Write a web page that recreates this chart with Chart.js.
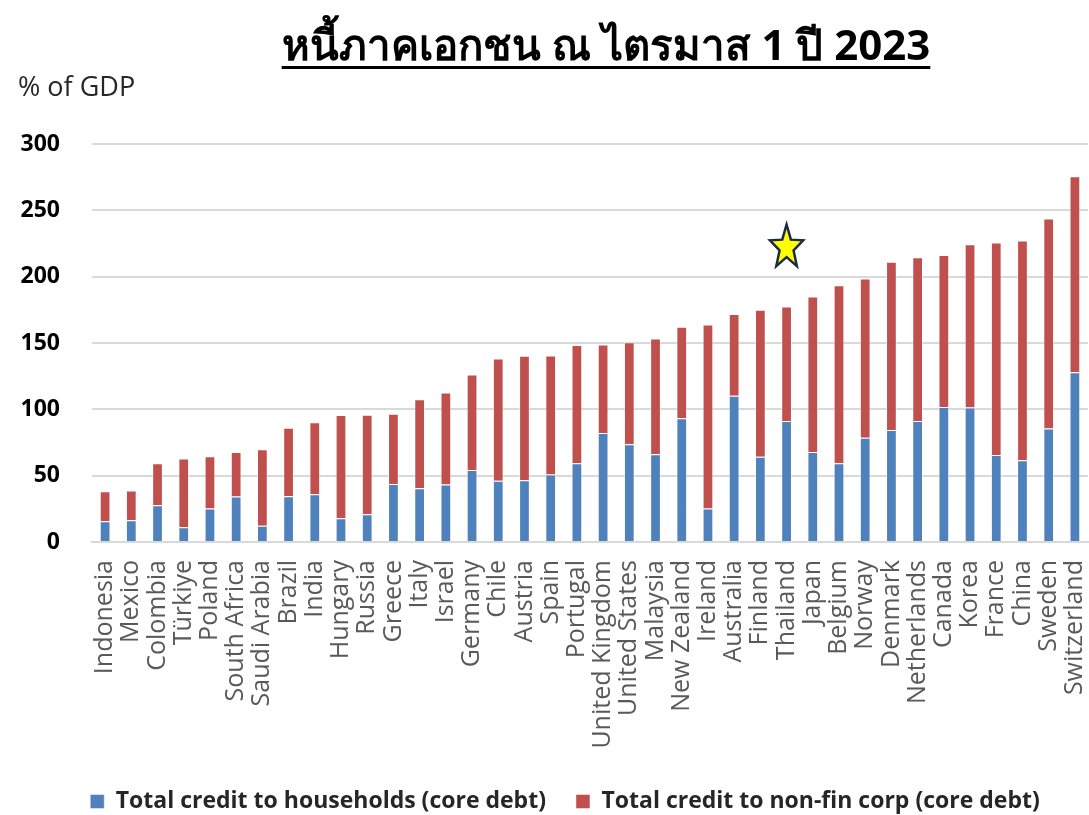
<!DOCTYPE html>
<html>
<head>
<meta charset="utf-8">
<script src="https://cdn.jsdelivr.net/npm/chart.js@4.4.1/dist/chart.umd.min.js"></script>
<style>
  html, body { margin: 0; padding: 0; background: #ffffff; }
  #wrap { position: relative; width: 1089px; height: 815px; overflow: hidden; }
  #chart { position: absolute; left: 0; top: 0; }
  #title {
    position: absolute; left: 606px; top: 12px; transform: translateX(-50%);
    font-family: "Open Sans", "Noto Sans", "DejaVu Sans", sans-serif;
    font-weight: bold; font-size: 42px; color: #000; white-space: nowrap;
    text-decoration: underline; text-decoration-thickness: 3px; text-underline-offset: 6px;
  }
  #unit {
    position: absolute; left: 18px; top: 67px;
    font-family: "Open Sans", sans-serif; font-size: 27px; color: #262626;
  }
</style>
</head>
<body>
<div id="wrap">
  <canvas id="chart" width="1089" height="815"></canvas>
  <div id="title">หนี้ภาคเอกชน ณ ไตรมาส 1 ปี 2023</div>
  <div id="unit">% of GDP</div>
</div>
<script>
// Private-sector debt by country, % of GDP
const countries = [
  "Indonesia", "Mexico", "Colombia", "Türkiye", "Poland", "South Africa", "Saudi Arabia",
  "Brazil", "India", "Hungary", "Russia", "Greece", "Italy", "Israel", "Germany", "Chile",
  "Austria", "Spain", "Portugal", "United Kingdom", "United States", "Malaysia",
  "New Zealand", "Ireland", "Australia", "Finland", "Thailand", "Japan", "Belgium",
  "Norway", "Denmark", "Netherlands", "Canada", "Korea", "France", "China", "Sweden",
  "Switzerland"
];

const householdCredit = [
  15.6, 16.4, 27.7, 11.1, 25.2, 34.3, 12.3, 34.5, 36.0, 17.9, 20.9, 43.8, 40.6, 43.3,
  54.2, 46.1, 46.6, 50.9, 59.4, 82.1, 73.6, 66.2, 93.2, 25.2, 110.3, 64.2, 91.2, 67.8,
  59.4, 78.6, 84.4, 91.2, 101.8, 101.3, 65.5, 61.7, 85.6, 128.0
];

const corporateCredit = [
  22.7, 22.4, 31.7, 51.9, 39.5, 33.5, 57.7, 51.6, 54.2, 77.8, 75.1, 52.9, 67.0, 69.3,
  72.0, 92.2, 93.7, 89.7, 89.0, 66.8, 77.0, 87.2, 69.0, 138.8, 61.5, 110.9, 86.4, 117.3,
  134.1, 120.1, 126.9, 123.4, 114.6, 123.1, 160.2, 165.5, 158.2, 147.6
];

const yTicks = [0, 50, 100, 150, 200, 250, 300];

const seriesNames = [
  "Total credit to households (core debt)",
  "Total credit to non-fin corp (core debt)"
];

// Highlight marker placed above Thailand
const markerCountry = "Thailand";
const markerValue = 222;

const starMarker = {
  id: "starMarker",
  afterDatasetsDraw(chart) {
    const idx = countries.indexOf(markerCountry);
    if (idx < 0) return;
    const x = chart.scales.x.getPixelForValue(idx);
    const y = chart.scales.y.getPixelForValue(markerValue);
    const ctx = chart.ctx;
    const rx = 17.5, ry = 23, inner = 0.42;
    ctx.save();
    ctx.beginPath();
    for (let i = 0; i < 10; i++) {
      const a = -Math.PI / 2 + i * Math.PI / 5;
      const r = i % 2 === 0 ? 1 : inner;
      const px = x + Math.cos(a) * rx * r;
      const py = y + Math.sin(a) * ry * r;
      if (i === 0) ctx.moveTo(px, py); else ctx.lineTo(px, py);
    }
    ctx.closePath();
    ctx.fillStyle = "#FFFF00";
    ctx.fill();
    ctx.lineJoin = "miter";
    ctx.lineWidth = 2.5;
    ctx.strokeStyle = "#1B2A47";
    ctx.stroke();
    ctx.restore();
  }
};

// Nudge the legend row to the right so it sits under the plot area
const legendShift = {
  id: "legendShift",
  afterLayout(chart) {
    if (chart.legend) chart.legend.left += 42;
  }
};

new Chart(document.getElementById("chart"), {
  type: "bar",
  data: {
    labels: countries,
    datasets: [
      {
        label: seriesNames[0],
        data: householdCredit,
        backgroundColor: "#4F81BD",
        borderColor: "rgba(255,255,255,0.45)",
        borderWidth: 1,
        barPercentage: 0.82,
        categoryPercentage: 0.5
      },
      {
        label: seriesNames[1],
        data: corporateCredit,
        backgroundColor: "#C0504D",
        borderColor: "rgba(255,255,255,0.45)",
        borderWidth: 1,
        barPercentage: 0.82,
        categoryPercentage: 0.5
      }
    ]
  },
  options: {
    responsive: false,
    animation: false,
    layout: { padding: { top: 144, left: 0, right: 1, bottom: -8 } },
    plugins: {
      title: { display: false },
      tooltip: { enabled: false },
      legend: {
        position: "bottom",
        labels: {
          boxWidth: 14,
          boxHeight: 14,
          padding: 30,
          color: "#262626",
          font: { family: "'Open Sans', sans-serif", size: 23, weight: "bold" }
        }
      }
    },
    scales: {
      x: {
        stacked: true,
        grid: { display: false, drawTicks: false },
        border: { display: true, color: "#D9D9D9", width: 2 },
        ticks: {
          autoSkip: false,
          minRotation: 90,
          maxRotation: 90,
          padding: 18,
          color: "#595959",
          font: { family: "'Open Sans', sans-serif", size: 25 }
        },
        afterFit(scale) {
          scale.height = 218;
          scale.paddingLeft = 0;
          scale.paddingRight = 0;
        }
      },
      y: {
        stacked: true,
        min: 0,
        max: 300,
        afterBuildTicks(scale) { scale.ticks = yTicks.map(v => ({ value: v })); },
        grid: { color: "#D9D9D9", lineWidth: 2, drawTicks: false },
        border: { display: false },
        ticks: {
          padding: 32,
          color: "#000000",
          font: { family: "'Open Sans', sans-serif", size: 23, weight: "bold" }
        },
        afterFit(scale) { scale.width = 92; }
      }
    }
  },
  plugins: [starMarker, legendShift]
});
</script>
</body>
</html>
